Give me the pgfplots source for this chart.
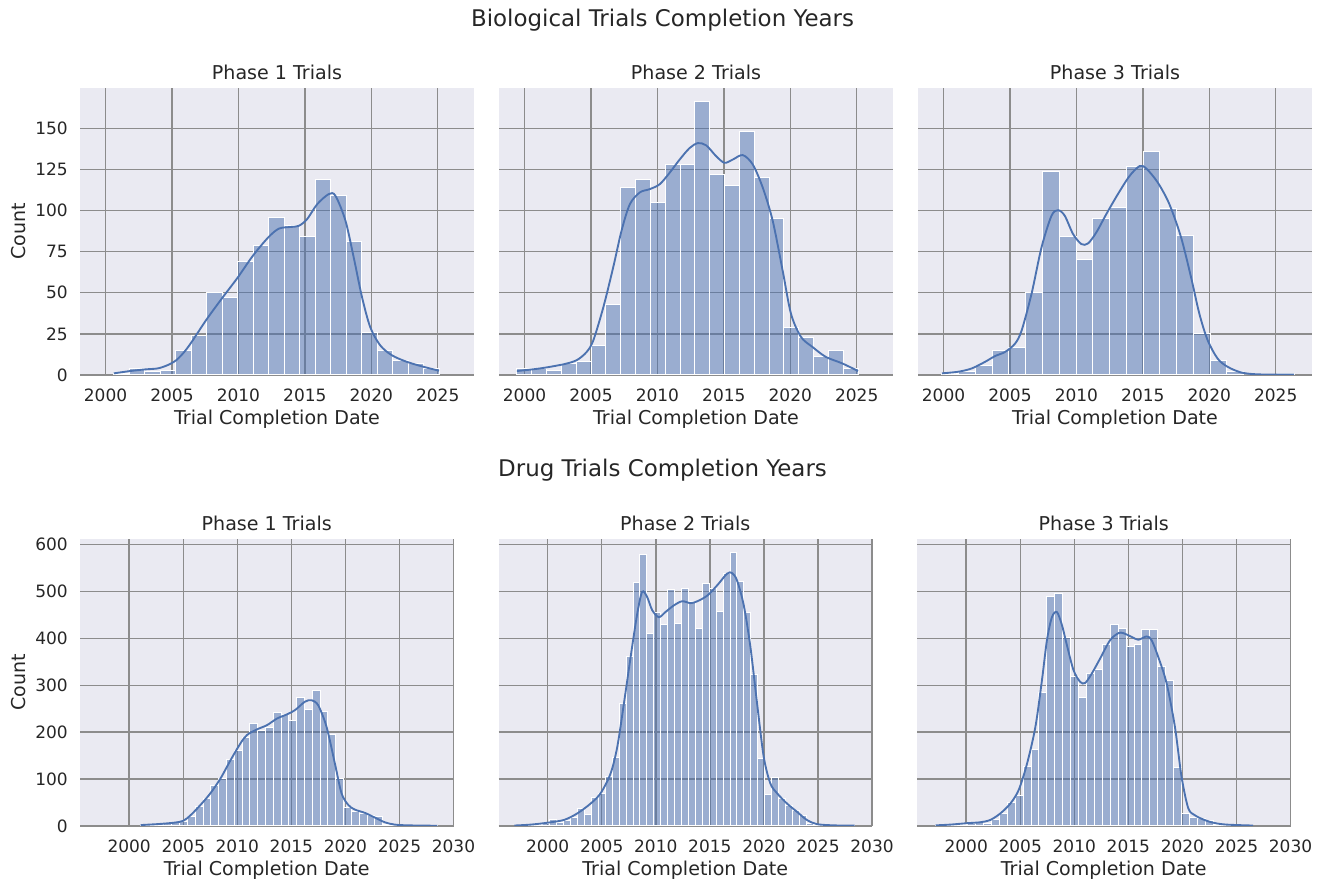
\documentclass[border=0pt]{standalone}
\usepackage{fontspec}
\setmainfont{DejaVu Sans}
\usepackage{pgfplots}
\usepackage{pgfplotstable}
\pgfplotsset{compat=1.18}
\definecolor{bgc}{HTML}{EAEAF2}
\definecolor{gridc}{HTML}{8C8C8C}
\definecolor{barc}{HTML}{4C72B0}
\definecolor{txt}{HTML}{262626}

% ---------- histogram bins (left edge, count; last row = right edge) ----------
\pgfplotstableread{
x y
2000.625 1
2001.792 4
2002.958 2
2004.125 3
2005.292 15
2006.458 24
2007.625 50
2008.792 47
2009.958 69
2011.125 79
2012.292 96
2013.458 91
2014.625 84
2015.792 119
2016.958 109
2018.125 81
2019.292 26
2020.458 15
2021.625 9
2022.792 7
2023.958 4
2025.125 0
}\hA
\pgfplotstableread{
x y
1999.425 4
2000.542 4
2001.658 3
2002.775 7
2003.892 8
2005.008 18
2006.125 43
2007.242 114
2008.358 119
2009.475 105
2010.592 128
2011.708 128
2012.825 166
2013.942 122
2015.058 115
2016.175 148
2017.292 120
2018.408 95
2019.525 29
2020.642 23
2021.758 11
2022.875 15
2023.992 4
2025.108 0
}\hB
\pgfplotstableread{
x y
1999.875 1
2001.137 2
2002.399 6
2003.661 15
2004.923 17
2006.185 50
2007.446 124
2008.708 84
2009.970 70
2011.232 95
2012.494 102
2013.756 127
2015.018 136
2016.280 101
2017.542 85
2018.804 25
2020.065 9
2021.327 2
2022.589 0
2023.851 0
2025.113 1
2026.375 0
}\hC
\pgfplotstableread{
x y
2001.050 2
2001.772 3
2002.495 5
2003.217 5
2003.940 7
2004.662 9
2005.384 20
2006.107 41
2006.829 59
2007.552 87
2008.274 101
2008.996 142
2009.719 160
2010.441 189
2011.164 218
2011.886 203
2012.608 209
2013.331 242
2014.053 238
2014.776 224
2015.498 273
2016.220 248
2016.943 289
2017.665 243
2018.388 194
2019.110 101
2019.832 40
2020.555 30
2021.277 27
2022.000 23
2022.722 20
2023.444 4
2024.167 1
2024.889 1
2025.612 0
2026.334 1
2027.056 0
2027.779 1
2028.501 0
}\hD
\pgfplotstableread{
x y
1997.000 1
1997.641 1
1998.282 2
1998.922 3
1999.563 6
2000.204 13
2000.845 7
2001.486 11
2002.126 18
2002.767 38
2003.408 25
2004.049 60
2004.690 69
2005.330 106
2005.971 145
2006.612 262
2007.253 362
2007.894 520
2008.534 579
2009.175 411
2009.816 454
2010.457 430
2011.098 504
2011.738 431
2012.379 507
2013.020 479
2013.661 422
2014.302 516
2014.942 507
2015.583 458
2016.224 538
2016.865 582
2017.506 521
2018.146 455
2018.787 323
2019.428 143
2020.069 67
2020.710 103
2021.350 59
2021.991 43
2022.632 32
2023.273 22
2023.914 6
2024.554 3
2025.195 2
2025.836 1
2026.477 1
2027.118 0
2027.758 1
2028.399 0
}\hE
\pgfplotstableread{
x y
1997.200 1
1997.933 2
1998.666 3
1999.399 4
2000.132 5
2000.865 7
2001.598 5
2002.331 13
2003.064 27
2003.797 50
2004.530 64
2005.263 126
2005.996 162
2006.729 284
2007.462 489
2008.195 495
2008.928 401
2009.661 318
2010.394 274
2011.127 326
2011.860 334
2012.593 387
2013.326 430
2014.059 420
2014.792 383
2015.525 387
2016.258 419
2016.991 419
2017.724 341
2018.457 311
2019.190 124
2019.923 26
2020.656 18
2021.389 15
2022.122 11
2022.855 3
2023.588 2
2024.321 1
2025.054 1
2025.787 1
2026.520 0
}\hF

% ---------- KDE curves ----------
\pgfplotstableread{
x y
2000.625 1
2001.85 2.4
2002.975 3.4
2003.925 4
2004.675 6
2005.325 9
2005.925 14
2006.475 20
2007.625 34
2008.8 47
2009.925 59
2011.1 72.6
2012.25 83.7
2013.05 89
2013.925 90
2014.55 90.7
2015.175 94.8
2015.925 103.8
2016.8 110
2017.3 109
2018.05 94
2018.675 71.6
2019.3 47.4
2019.925 29
2020.675 18
2021.55 12
2022.675 8
2023.925 5
2025.1 2.6
}\kA
\pgfplotstableread{
x y
1999.425 2.4
2001.175 4
2002.925 6.5
2003.925 9
2004.675 14
2005.175 21
2005.925 41
2006.675 65.5
2007.3 87.7
2007.925 103.8
2008.675 111
2009.425 113
2010.175 116
2010.925 123
2011.675 131
2012.425 138
2013.05 141
2013.675 139.6
2014.425 133
2015.05 129
2015.675 131
2016.425 133.7
2017.175 128
2017.925 114
2018.675 93.8
2019.425 63.5
2020.05 37.3
2020.8 23.2
2021.675 17
2022.675 11
2023.925 7
2025.1 2.4
}\kB
\pgfplotstableread{
x y
1999.875 1
2001.125 2
2002.125 4
2003.125 8
2003.875 11.5
2004.625 14
2005.375 19
2005.875 27
2006.625 49.4
2007.375 77.6
2008.125 96.8
2008.625 100.2
2009.125 96.8
2009.75 85.7
2010.375 79.6
2010.875 80
2011.5 86.7
2012.25 97.8
2013.125 110
2014.0 121
2014.75 127
2015.25 125.6
2016.125 117
2017.0 103.8
2017.875 83.7
2018.625 59.5
2019.25 37.3
2019.875 21.2
2020.625 10
2021.375 5
2022.375 1.6
2023.625 0.4
2026.375 0.2
}\kC
\pgfplotstableread{
x y
2001.06 2
2002.6 4
2004.14 7
2005.0 11
2005.68 23
2006.6 45
2007.52 70
2008.44 101
2009.37 140
2010.29 176
2010.9 194
2011.83 206
2012.75 215
2013.67 229
2014.6 238
2015.34 247
2016.26 265
2016.88 268
2017.49 257
2018.26 211
2019.03 133
2019.64 70
2020.26 45
2020.87 35
2021.8 28
2022.72 18
2023.64 8
2024.56 3
2025.79 1.4
2028.5 0.5
}\kD
\pgfplotstableread{
x y
1996.92 1
1998.45 3
1999.99 7
2001.52 13
2002.75 27
2003.98 48
2004.9 70
2005.82 112
2006.44 169
2007.05 261
2007.67 360
2008.28 452
2008.74 499
2009.2 488
2009.67 460
2010.28 445
2010.89 456
2011.66 470
2012.43 479
2013.22 475
2013.84 479
2014.76 491
2015.68 513
2016.6 538
2017.06 539
2017.52 523
2018.14 470
2018.75 382
2019.37 261
2019.98 148
2020.59 91
2021.21 70
2022.13 48
2023.05 30.5
2023.97 13
2024.9 4
2026.43 1.4
2028.4 0.7
}\kE
\pgfplotstableread{
x y
1997.17 1.4
1998.55 3
2000.09 6
2001.32 8
2002.24 13
2003.17 27
2004.09 48
2004.86 77
2005.63 133
2006.4 211
2007.01 311
2007.47 396
2007.93 445
2008.39 456
2008.86 428
2009.32 385
2009.93 332
2010.55 307
2011.01 305
2011.62 325
2012.39 357
2013.31 396
2014.08 411
2014.54 411
2015.31 403
2015.92 397
2016.69 404
2017.15 396
2017.77 360
2018.54 304
2019.31 211
2019.92 105
2020.54 38
2021.15 23
2021.92 14
2022.84 7
2024.07 3
2026.53 1
}\kF

\pgfplotsset{
  panel/.style={
    scale only axis, height=215pt, anchor=south west,
    axis background/.style={fill=bgc},
    grid=major, grid style={gridc, line width=1.1pt},
    axis line style={draw=none},
    major tick length=0pt,
    ymin=0,
    tick label style={font=\fontsize{12.75}{15}\selectfont, text=txt},
    /pgf/number format/assume math mode=true,
    /pgf/number format/1000 sep={},
    xticklabel style={anchor=base, yshift=-19.75pt},
    yticklabel style={anchor=east, inner sep=0pt, xshift=-9pt},
    title style={font=\fontsize{14.3}{17}\selectfont, text=txt, at={(axis description cs:0.5,1)}, anchor=base, yshift=0.3pt},
    xlabel={Trial Completion Date},
    xlabel style={font=\fontsize{14.3}{17}\selectfont, text=txt, at={(axis description cs:0.5,0)}, anchor=base, yshift=-37pt},
    ylabel style={font=\fontsize{14.3}{17}\selectfont, text=txt, anchor=center},
  },
  toprow/.style={panel, width=295.5pt, xmin=1998.08, xmax=2027.73, ymax=174.3,
    xtick={2000,2005,...,2025}, ytick={0,25,...,150}},
  botrow/.style={panel, width=280.125pt, xmin=1995.45, xmax=2030.0, ymax=611,
    xtick={2000,2005,...,2030}, ytick={0,100,...,600}},
  bars/.style={ybar interval, fill=barc, fill opacity=0.5, draw=white, line width=0.75pt},
  kde/.style={barc, line width=1.4pt, smooth, no marks},
}

\begin{document}
\begin{tikzpicture}
\useasboundingbox (0,0) rectangle (996pt,660.75pt);

\node[font=\fontsize{17.2}{20}\selectfont, text=txt, anchor=base] at (496.9pt,640.5pt) {Biological Trials Completion Years};
\node[font=\fontsize{17.2}{20}\selectfont, text=txt, anchor=base] at (496.9pt,303pt) {Drug Trials Completion Years};

% ----- top row -----
\begin{axis}[toprow, at={(60pt,379.5pt)}, title={Phase 1 Trials}, ylabel={Count},
  ylabel style={at={(axis description cs:-0.157,0.5)}}]
\addplot[bars] table {\hA};
\addplot[kde] table {\kA};
\end{axis}
\begin{axis}[toprow, at={(374.25pt,379.5pt)}, title={Phase 2 Trials}, yticklabels={}]
\addplot[bars] table {\hB};
\addplot[kde] table {\kB};
\end{axis}
\begin{axis}[toprow, at={(688.5pt,379.5pt)}, title={Phase 3 Trials}, yticklabels={}]
\addplot[bars] table {\hC};
\addplot[kde] table {\kC};
\end{axis}

% ----- bottom row -----
\begin{axis}[botrow, at={(60pt,41.25pt)}, title={Phase 1 Trials}, ylabel={Count},
  ylabel style={at={(axis description cs:-0.1647,0.5)}}]
\addplot[bars] table {\hD};
\addplot[kde] table {\kD};
\end{axis}
\begin{axis}[botrow, at={(373.875pt,41.25pt)}, title={Phase 2 Trials}, yticklabels={}]
\addplot[bars] table {\hE};
\addplot[kde] table {\kE};
\end{axis}
\begin{axis}[botrow, at={(687.75pt,41.25pt)}, title={Phase 3 Trials}, yticklabels={}]
\addplot[bars] table {\hF};
\addplot[kde] table {\kF};
\end{axis}
\end{tikzpicture}
\end{document}
